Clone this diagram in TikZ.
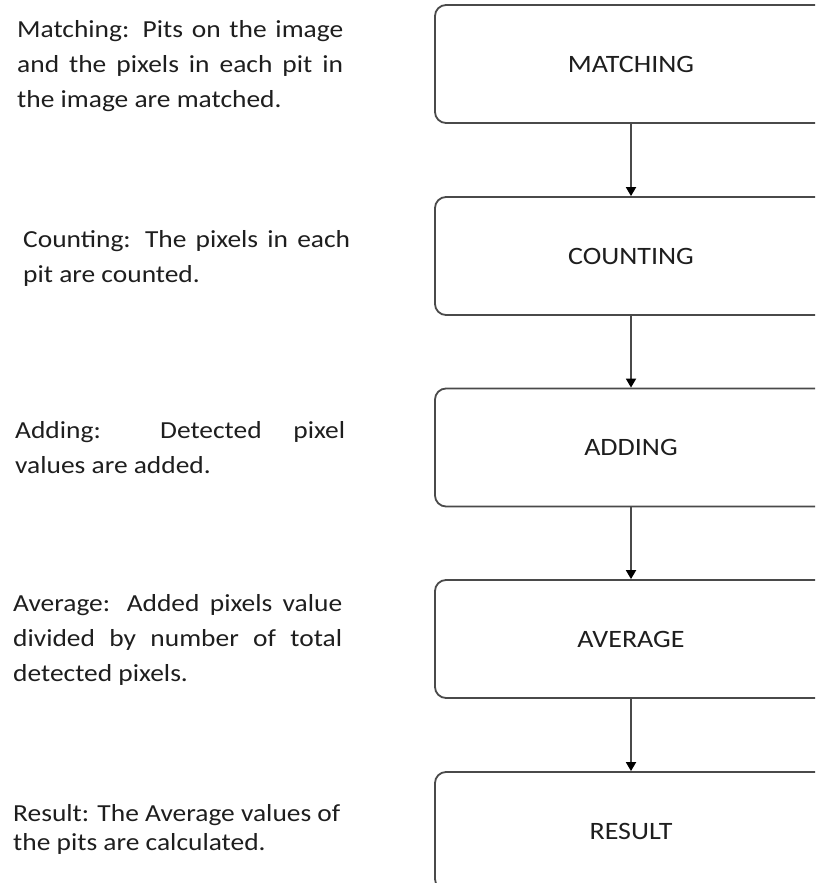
\documentclass[tikz,border=0pt]{standalone}
\usepackage{fontspec}
\setmainfont{Carlito}[FakeStretch=1.12]
\usetikzlibrary{arrows.meta}
\definecolor{ink}{HTML}{1E1E1E}
\definecolor{edge}{HTML}{4A4A4A}
\begin{document}
\begin{tikzpicture}[x=1pt,y=-1pt,
  stagebox/.style={draw=edge, line width=1.8pt, rounded corners=11pt,
    minimum width=392pt, minimum height=118pt, inner sep=0pt,
    text=ink, font=\fontsize{25}{28}\selectfont},
  flow/.style={draw=edge, line width=1.8pt,
    -{Triangle[length=9pt,width=10pt,fill=black,color=black]}},
  note/.style={anchor=base west, inner sep=0pt, text width=#1,
    align=justify, text=ink, font=\fontsize{24.5}{35}\selectfont}]
\useasboundingbox (0,0) rectangle (815,883);
\clip (0,0) rectangle (815,883);

% flow stages on the right (they run past the right edge)
\node[stagebox] (match) at (631,64)    {MATCHING};
\node[stagebox] (count) at (631,256)   {COUNTING};
\node[stagebox] (add)   at (631,447.5) {ADDING};
\node[stagebox] (avg)   at (631,639)   {AVERAGE};
\node[stagebox] (res)   at (631,831)   {RESULT};

\draw[flow] (match) -- (count);
\draw[flow] (count) -- (add);
\draw[flow] (add)   -- (avg);
\draw[flow] (avg)   -- (res);

% descriptions on the left
\node[note=326pt] (tmatch) at (17,37.7)
  {Matching: Pits on the image\linebreak and the pixels in each pit in\linebreak the image are matched.};
\node[note=327pt] (tcount) at (23,247.7)
  {Counting: The pixels in each\linebreak pit are counted.};
\node[note=330pt] (tadd) at (15,438)
  {Adding: Detected pixel\linebreak values are added.};
\node[note=329pt] (tavg) at (13,611.7)
  {Average: Added pixels value\linebreak divided by number of total\linebreak detected pixels.};
\node[note=360pt, font=\fontsize{24.5}{28.5}\selectfont] (tres) at (13,821.7)
  {Result: The Average values of\newline the pits are calculated.};
\end{tikzpicture}
\end{document}
